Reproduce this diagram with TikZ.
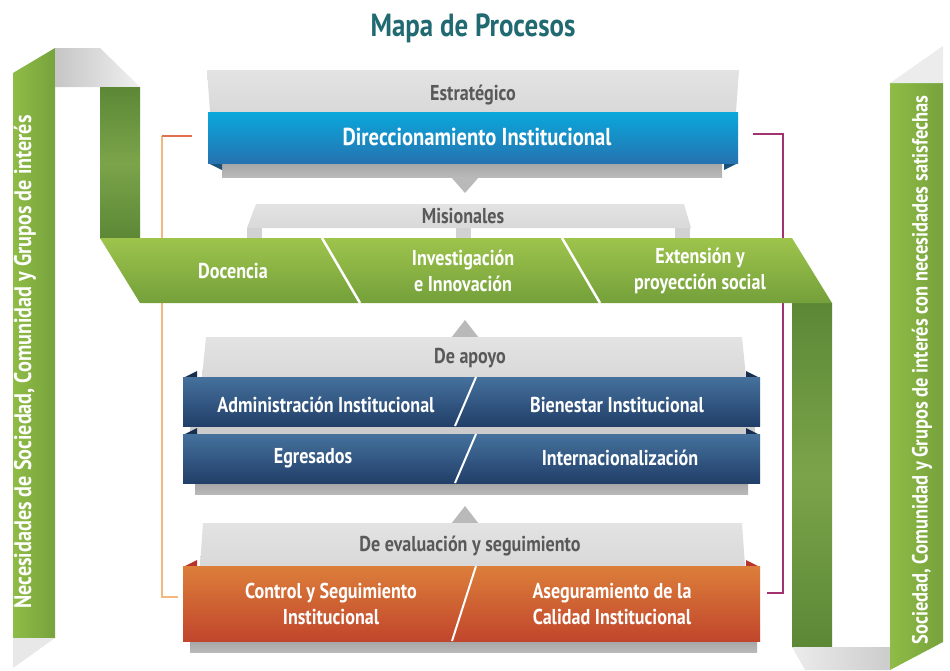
\documentclass[tikz,border=0pt]{standalone}
\usepackage{fontspec}
\setmainfont{PT Sans}[FakeStretch=0.84]

\definecolor{titleteal}{HTML}{216A72}
\definecolor{hdrtextgray}{HTML}{595959}
\definecolor{bandlight}{HTML}{8FBC46}
\definecolor{banddark}{HTML}{77A23D}
\definecolor{foldgreenA}{HTML}{5C8836}
\definecolor{foldgreenB}{HTML}{7BA44A}
\definecolor{misgreenA}{HTML}{9EC44C}
\definecolor{misgreenB}{HTML}{74A03B}
\definecolor{stratblueA}{HTML}{0AA8DC}
\definecolor{stratblueB}{HTML}{2573B0}
\definecolor{navyA}{HTML}{45719D}
\definecolor{navyB}{HTML}{213F69}
\definecolor{navyfold}{HTML}{172E4F}
\definecolor{orangeA}{HTML}{DC7E3A}
\definecolor{orangeB}{HTML}{C1462C}
\definecolor{orangefold}{HTML}{B8332A}
\definecolor{bracketorange}{HTML}{F2B87C}
\definecolor{bracketred}{HTML}{E0704E}
\definecolor{bracketpurple}{HTML}{A3336F}

\begin{document}
\begin{tikzpicture}[
    x=1pt, y=-1pt,
    hdr/.style={top color=gray!22, bottom color=gray!30},
    shadowbar/.style={top color=gray!70, bottom color=gray!55},
    hdrtext/.style={font=\bfseries\fontsize{21.5}{24}\selectfont, text=hdrtextgray},
    boxtext/.style={font=\bfseries\fontsize{21.5}{26.5}\selectfont, text=white, align=center},
    bandtext/.style={font=\bfseries\fontsize{22}{24}\selectfont, text=white, rotate=90},
    slash/.style={white, line width=2pt},
    pointer/.style={fill=gray!55}
]
    \useasboundingbox (0,0) rectangle (950,670);

    % Title
    \node[font=\bfseries\fontsize{32}{36}\selectfont, text=titleteal] (title) at (473,28) {Mapa de Procesos};

    % Brackets
    \draw[bracketorange, line width=1.3pt] (162,136) -- (162,597) -- (178,597);
    \draw[bracketred, line width=1.3pt] (192,136) -- (162,136);
    \draw[bracketpurple, line width=1.3pt] (753,134) -- (783,134) -- (783,593) -- (767,593);

    % Left ribbon
    \shade[left color=bandlight, right color=banddark] (13,73) -- (55,48) -- (55,638) -- (13,638) -- cycle;
    \shade[left color=gray!45, right color=gray!12] (55,48) -- (100,48) -- (140,87) -- (55,87) -- cycle;
    \fill[gray!18] (13,638) -- (55,638) -- (13,668) -- cycle;
    \shade[top color=foldgreenA, bottom color=foldgreenA, middle color=foldgreenB] (100,87) rectangle (140,238);
    \node[bandtext, font=\bfseries\fontsize{24}{26}\selectfont] (needs) at (25,362) {Necesidades de Sociedad, Comunidad y Grupos de interés};

    % Right ribbon
    \shade[top color=foldgreenA, bottom color=foldgreenA, middle color=foldgreenB] (792,303) rectangle (832,647);
    \shade[left color=gray!15, right color=gray!40] (792,647) -- (890,647) -- (890,670) -- (805,670) -- cycle;
    \shade[left color=bandlight, right color=banddark] (890,83) -- (943,83) -- (943,642) -- (890,670) -- cycle;
    \fill[gray!15] (890,83) -- (943,46) -- (943,83) -- cycle;
    \node[bandtext] (satisfied) at (922,370) {Sociedad, Comunidad y Grupos de interés con necesidades satisfechas};

    % Estrategico
    \shade[hdr] (207,70) -- (739,70) -- (736,112) -- (210,112) -- cycle;
    \node[hdrtext] (strat) at (473,95) {Estratégico};
    \shade[shadowbar] (222,163) rectangle (722,177);
    \fill[stratblueB!70!black] (208,163) -- (222,163) -- (222,170) -- cycle;
    \fill[stratblueB!70!black] (738,163) -- (724,163) -- (724,170) -- cycle;
    \shade[top color=stratblueA, bottom color=stratblueB] (208,112) rectangle (738,163);
    \node[boxtext, font=\bfseries\fontsize{24.5}{28}\selectfont] (direc) at (477,137) {Direccionamiento Institucional};
    \fill[pointer] (451,177) -- (479,177) -- (465,193) -- cycle;

    % Misionales
    \shade[hdr] (256,204) -- (684,204) -- (691,228) -- (247,228) -- cycle;
    \foreach \lx in {247,456,675}
        \fill[gray!35] (\lx,228) rectangle (\lx+15,238);
    \node[hdrtext] (mis) at (463,216) {Misionales};
    \shade[top color=misgreenA, bottom color=misgreenB] (100,238) -- (792,238) -- (832,303) -- (140,303) -- cycle;
    \draw[slash, line width=2.5pt] (322,238) -- (360,303);
    \draw[slash, line width=2.5pt] (562,238) -- (600,303);
    \node[boxtext] (doc) at (233,271) {Docencia};
    \node[boxtext] (inv) at (463,271) {Investigación\\e Innovación};
    \node[boxtext] (ext) at (700,271) {Extensión y\\proyección social};

    % De apoyo
    \fill[pointer] (451,338) -- (479,338) -- (465,320) -- cycle;
    \shade[hdr] (206,337) -- (742,337) -- (746,377) -- (202,377) -- cycle;
    \node[hdrtext] (apoyo) at (470,358) {De apoyo};
    \fill[gray!40] (190,427) rectangle (755,434);
    \shade[shadowbar] (195,483) rectangle (748,494);
    \foreach \ry in {377,434} {
        \fill[navyfold] (183,\ry+1) -- (197,\ry-6) -- (197,\ry+1) -- cycle;
        \fill[navyfold] (760,\ry+1) -- (746,\ry-6) -- (746,\ry+1) -- cycle;
        \shade[top color=navyA, bottom color=navyB] (183,\ry) rectangle (760,\ry+49);
        \draw[slash] (476,\ry) -- (455,\ry+49);
    }
    \node[boxtext] (admin) at (326,405) {Administración Institucional};
    \node[boxtext] (bien) at (617,405) {Bienestar Institucional};
    \node[boxtext] (egre) at (313,458) {Egresados};
    \node[boxtext] (inter) at (620,458) {Internacionalización};

    % De evaluacion y seguimiento
    \fill[pointer] (451,524) -- (479,524) -- (465,506) -- cycle;
    \shade[hdr] (203,523) -- (742,523) -- (745,566) -- (200,566) -- cycle;
    \node[hdrtext] (eval) at (470,546) {De evaluación y seguimiento};
    \shade[shadowbar] (190,641) rectangle (757,652);
    \fill[orangefold] (183,567) -- (197,560) -- (197,567) -- cycle;
    \fill[orangefold] (760,567) -- (746,560) -- (746,567) -- cycle;
    \shade[top color=orangeA, bottom color=orangeB] (183,566) rectangle (760,641);
    \draw[slash] (476,566) -- (452,641);
    \node[boxtext] (control) at (331,604) {Control y Seguimiento\\Institucional};
    \node[boxtext] (asegu) at (612,604) {Aseguramiento de la\\Calidad Institucional};
\end{tikzpicture}
\end{document}
